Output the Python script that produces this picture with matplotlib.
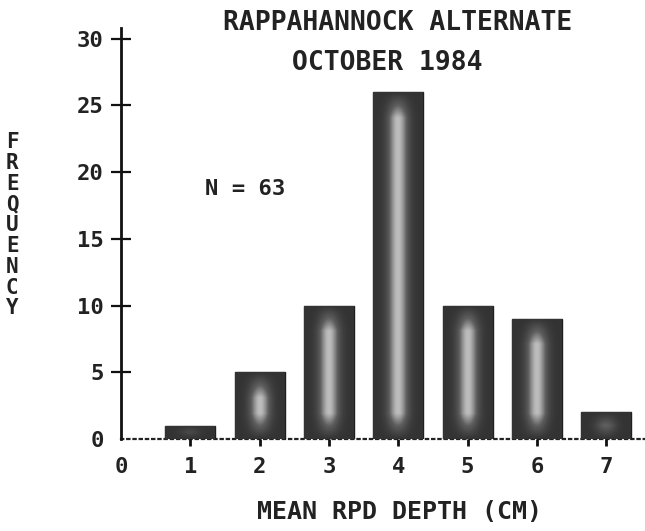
import numpy as np
import matplotlib
matplotlib.use("Agg")
import matplotlib.pyplot as plt
from matplotlib.colors import LinearSegmentedColormap

# RPD depth histogram, Rappahannock alternate site, October 1984
depth_classes = [1, 2, 3, 4, 5, 6, 7]
frequency = [1, 5, 10, 26, 10, 9, 2]
x_ticks = [0, 1, 2, 3, 4, 5, 6, 7]
y_ticks = [0, 5, 10, 15, 20, 25, 30]
n_total = sum(frequency)

FONT = "DejaVu Sans Mono"

fig = plt.figure(figsize=(6.45, 5.31), dpi=100)
ax = fig.add_axes([0.1876, 0.1733, 0.8124, 0.774])

XMAX, YMAX = 7.56, 30.8
bar_w = 0.72
bars = ax.bar(depth_classes, frequency, width=bar_w, color="#363636",
              edgecolor="#1e1e1e", linewidth=1.0, zorder=2)

# shaded core inside each bar: light vertical streak fading to the dark rim
shade = LinearSegmentedColormap.from_list("shade", ["#333333", "#5e5e5e", "#bdbdbd"])
for patch in bars:
    x0, w, h = patch.get_x(), patch.get_width(), patch.get_height()
    xs = np.linspace(x0, x0 + w, 80)
    ys = np.linspace(0, h, max(int(h * 14), 20))
    X, Y = np.meshgrid(xs, ys)
    cx = x0 + w / 2
    horiz = np.exp(-((X - cx) / 0.15) ** 2)
    vert = np.clip(np.minimum(Y, h - Y) / 1.9, 0, 1)
    img = horiz * vert
    im = ax.imshow(img, extent=(x0, x0 + w, 0, h), origin="lower", cmap=shade,
                   vmin=0, vmax=1, aspect="auto", zorder=3, interpolation="bilinear")
    im.set_clip_path(patch)

ax.set_xlim(0, XMAX)
ax.set_ylim(0, YMAX)

for side in ("top", "right"):
    ax.spines[side].set_visible(False)
ax.spines["left"].set_linewidth(2.0)
ax.spines["left"].set_color("#111111")
ax.spines["bottom"].set_linewidth(1.6)
ax.spines["bottom"].set_linestyle((0, (1, 1.8)))
ax.spines["bottom"].set_color("#222222")
ax.spines["bottom"].set_zorder(1)

ax.set_xticks(x_ticks)
ax.set_xticklabels([str(t) for t in x_ticks])
ax.set_yticks(y_ticks)
ax.set_yticklabels([str(t) for t in y_ticks])

ax.tick_params(axis="y", direction="inout", length=15, width=1.6, pad=5,
               color="#111111", labelsize=16)
ax.tick_params(axis="x", direction="out", length=5, width=2.0, pad=8,
               color="#111111", labelsize=16)
ax.xaxis.get_major_ticks()[0].tick1line.set_visible(False)
ax.yaxis.get_major_ticks()[0].tick1line.set_visible(False)

for lab in ax.get_xticklabels() + ax.get_yticklabels():
    lab.set_fontfamily(FONT)
    lab.set_fontweight("bold")
    lab.set_color("#222222")

ax.text(1.79, 18.7, f"N = {n_total}", ha="center", va="center",
        fontfamily=FONT, fontweight="bold", fontsize=16, color="#222222")

fig.text(0.616, 0.957, "RAPPAHANNOCK ALTERNATE", ha="center", va="center",
         fontfamily=FONT, fontweight="bold", fontsize=19, color="#222222")
fig.text(0.600, 0.882, "OCTOBER 1984", ha="center", va="center",
         fontfamily=FONT, fontweight="bold", fontsize=19, color="#222222")
fig.text(0.619, 0.036, "MEAN RPD DEPTH (CM)", ha="center", va="center",
         fontfamily=FONT, fontweight="bold", fontsize=18, color="#222222")
fig.text(0.019, 0.576, "\n".join("FREQUENCY"), ha="center", va="center",
         fontfamily=FONT, fontweight="bold", fontsize=15, linespacing=1.05,
         color="#222222")

fig.savefig("out.png", dpi=100, facecolor="white")
